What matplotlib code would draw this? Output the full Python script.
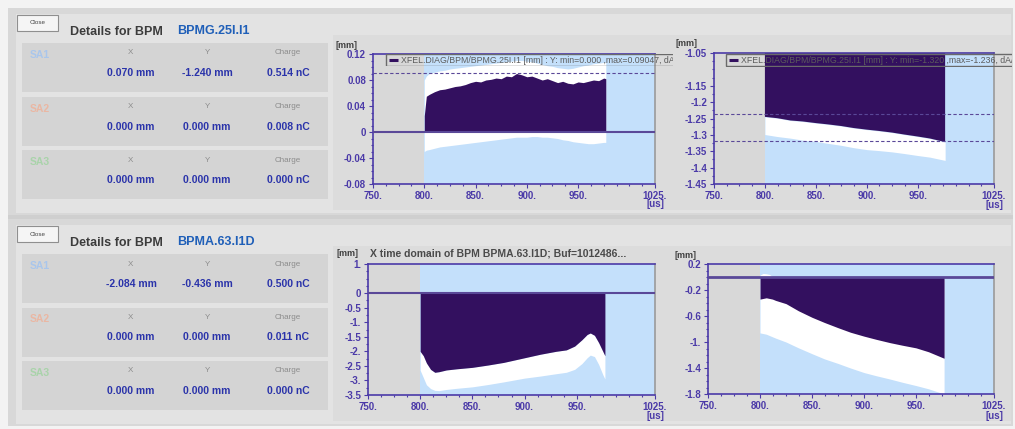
import numpy as np
import matplotlib
matplotlib.use("Agg")
import matplotlib.pyplot as plt
import matplotlib.patches as pat

plt.rcParams['font.family'] = ['Liberation Sans', 'DejaVu Sans']

W, H = 1015, 429

# ---- BPM readout values (top panel / bottom panel) ----
bpm_names = ["BPMG.25I.I1", "BPMA.63.I1D"]
sa_names = ["SA1", "SA2", "SA3"]
top_x = ["0.070 mm", "0.000 mm", "0.000 mm"]
top_y = ["-1.240 mm", "0.000 mm", "0.000 mm"]
top_q = ["0.514 nC", "0.008 nC", "0.000 nC"]
bot_x = ["-2.084 mm", "0.000 mm", "0.000 mm"]
bot_y = ["-0.436 mm", "0.000 mm", "0.000 mm"]
bot_q = ["0.500 nC", "0.011 nC", "0.000 nC"]

# ---- time domain traces [us] / [mm] ----
# BPMG.25I.I1 Y : current, max envelope, min envelope
t_a = [800, 802, 805, 810, 815, 820, 825, 830, 835, 840, 845, 850, 855, 860, 865,
       870, 875, 880, 885, 890, 895, 900, 905, 910, 915, 920, 925, 930, 935, 940,
       945, 950, 955, 960, 965, 970, 975, 977]
y_a = [0.025, 0.055, 0.058, 0.062, 0.065, 0.066, 0.068, 0.070, 0.071, 0.073,
       0.076, 0.078, 0.077, 0.080, 0.081, 0.083, 0.082, 0.086, 0.085, 0.090,
       0.088, 0.085, 0.086, 0.083, 0.080, 0.082, 0.079, 0.076, 0.078, 0.075,
       0.074, 0.077, 0.076, 0.078, 0.080, 0.079, 0.083, 0.082]
hi_a = [0.080, 0.086, 0.090, 0.092, 0.094, 0.095, 0.097, 0.098, 0.099, 0.100,
        0.101, 0.102, 0.103, 0.104, 0.105, 0.106, 0.107, 0.108, 0.109, 0.110,
        0.110, 0.109, 0.108, 0.106, 0.104, 0.102, 0.101, 0.099, 0.098, 0.097,
        0.098, 0.100, 0.102, 0.103, 0.105, 0.106, 0.107, 0.107]
lo_a = [-0.030, -0.028, -0.027, -0.025, -0.023, -0.022, -0.021, -0.020, -0.019,
        -0.018, -0.017, -0.016, -0.015, -0.014, -0.013, -0.012, -0.011, -0.010,
        -0.009, -0.008, -0.008, -0.008, -0.007, -0.007, -0.008, -0.008, -0.009,
        -0.010, -0.012, -0.013, -0.015, -0.016, -0.017, -0.018, -0.018, -0.017,
        -0.016, -0.016]
lim_a = [0.0, 0.09047]

# BPMG.25I.I1 Y (second view)
t_b = [800, 812, 825, 837, 850, 862, 875, 887, 900, 912, 925, 937, 950, 962, 977]
y_b = [-1.245, -1.249, -1.256, -1.259, -1.264, -1.268, -1.273, -1.279, -1.284,
       -1.288, -1.293, -1.299, -1.305, -1.311, -1.322]
lo_b = [-1.299, -1.305, -1.310, -1.316, -1.320, -1.326, -1.332, -1.339, -1.345,
        -1.348, -1.352, -1.357, -1.363, -1.368, -1.378]
lim_b = [-1.320, -1.236]

# BPMA.63.I1D X
t_c = [800, 803, 806, 810, 814, 818, 825, 835, 850, 865, 880, 900, 915, 930,
       940, 948, 955, 960, 963, 967, 971, 975, 977]
y_c = [-2.00, -2.15, -2.40, -2.62, -2.72, -2.70, -2.64, -2.60, -2.55, -2.47,
       -2.38, -2.22, -2.10, -2.00, -1.95, -1.82, -1.60, -1.42, -1.37, -1.45,
       -1.70, -2.00, -2.15]
lo_c = [-2.65, -2.90, -3.15, -3.28, -3.34, -3.35, -3.31, -3.27, -3.22, -3.14,
        -3.05, -2.92, -2.85, -2.77, -2.72, -2.62, -2.42, -2.22, -2.13, -2.18,
        -2.45, -2.80, -2.95]

# BPMA.63.I1D Y
t_d = [800, 803, 806, 809, 812, 815, 825, 837, 850, 862, 875, 887, 900, 912,
       925, 937, 950, 962, 977]
y_d = [-0.34, -0.33, -0.32, -0.33, -0.34, -0.36, -0.41, -0.52, -0.62, -0.70,
       -0.78, -0.85, -0.91, -0.96, -1.01, -1.05, -1.09, -1.15, -1.25]
hi_d = [0.03, 0.055, 0.05, 0.04, 0.01, 0.0, 0.0, 0.0, 0.0, 0.0, 0.0, 0.0, 0.0,
        0.0, 0.0, 0.0, 0.0, 0.0, 0.0]
lo_d = [-0.86, -0.87, -0.88, -0.90, -0.92, -0.94, -1.00, -1.09, -1.18, -1.26,
        -1.33, -1.40, -1.47, -1.52, -1.57, -1.62, -1.67, -1.72, -1.80]

xt = [750, 800, 850, 900, 950, 1025]
xtl = ["750.", "800.", "850.", "900.", "950.", "1025."]

PURPLE = '#33105f'
BLUE = '#c4e0fb'
AXC = '#4b3aa8'
ZERO = '#5a4898'
VALC = '#2a33aa'
HEADC = '#8c8c8c'
SA_COLORS = ['#a9c6ec', '#eab7a3', '#a9d3aa']


def fbox(x0, y0, x1, y1):
    return [x0 / W, 1 - y1 / H, (x1 - x0) / W, (y1 - y0) / H]


fig = plt.figure(figsize=(W / 100, H / 100), dpi=100)
fig.patch.set_facecolor('#f3f3f3')

# background layer in pixel units
bg = fig.add_axes([0, 0, 1, 1], zorder=0)
bg.set_xlim(0, W)
bg.set_ylim(H, 0)
bg.axis('off')


def rect(x0, y0, x1, y1, fc, ec='none', lw=0):
    bg.add_patch(pat.Rectangle((x0, y0), x1 - x0, y1 - y0, fc=fc, ec=ec, lw=lw))


def draw_panel(off, name, xs, ys, qs):
    rect(8, 8 + off, 1013, 215 + off, '#d8d8d8')
    rect(16, 14 + off, 1011, 213 + off, '#e3e3e3')
    rect(333, 35 + off, 1011, 210 + off, '#dcdcdc')
    # close button
    rect(17, 15 + off, 58, 31 + off, '#f5f5f5', '#8f8f8f', 0.8)
    bg.text(37.5, 23 + off, "Close", fontsize=4.5, color='#444444',
            ha='center', va='center')
    bg.text(70, 32 + off, "Details for BPM", fontsize=9, fontweight='bold',
            color='#3c3c3c', va='center')
    bg.text(177, 31 + off, name, fontsize=9, fontweight='bold',
            color='#1f5fb8', va='center')
    for i in range(3):
        top = 43 + off + i * 53.5
        rect(22, top, 328, top + 49, '#d4d4d4')
        bg.text(30, top + 12, sa_names[i], fontsize=7.5, fontweight='bold',
                color=SA_COLORS[i], va='center')
        for cx, head, val in [(131, "X", xs[i]), (207, "Y", ys[i]),
                              (288, "Charge", qs[i])]:
            bg.text(cx, top + 10, head, fontsize=5.8, color=HEADC,
                    ha='center', va='center')
            bg.text(cx, top + 30, val, fontsize=7.5, fontweight='bold',
                    color=VALC, ha='center', va='center')


draw_panel(0, bpm_names[0], top_x, top_y, top_q)
rect(8, 215, 1013, 220, '#cfcfcf')
draw_panel(211, bpm_names[1], bot_x, bot_y, bot_q)


def style(ax, ylim, yt, ytl, yminor):
    ax.set_xlim(750, 1025)
    ax.set_ylim(*ylim)
    ax.set_facecolor('#d8d8d8')
    ax.axvspan(800, 1025, color=BLUE, lw=0, zorder=0)
    ax.set_xticks(xt)
    ax.set_xticklabels(xtl)
    ax.set_xticks(np.arange(750, 1025.1, 12.5), minor=True)
    ax.set_yticks(yt)
    ax.set_yticklabels(ytl)
    ax.set_yticks(yminor, minor=True)
    ax.tick_params(which='both', colors=AXC, direction='out', width=0.8,
                   labelsize=7)
    ax.tick_params(which='major', length=3, pad=2)
    ax.tick_params(which='minor', length=1.6)
    for lab in ax.get_xticklabels() + ax.get_yticklabels():
        lab.set_fontweight('bold')
    for s in ['left', 'bottom', 'top']:
        ax.spines[s].set_color(AXC)
        ax.spines[s].set_linewidth(1.2)
    ax.spines['right'].set_color('#9a9a9a')
    ax.spines['right'].set_linewidth(1.2)


def units(x_mm, y_mm, x_us, y_us):
    bg.text(x_mm, y_mm, "[mm]", fontsize=6.5, fontweight='bold',
            color='#404040', va='center')
    bg.text(x_us, y_us, "[us]", fontsize=7, fontweight='bold',
            color=AXC, ha='center', va='center')


def legend_box(x0, y0, x1, y1, label):
    lax = fig.add_axes(fbox(x0, y0, x1, y1), zorder=3)
    lax.set_xlim(0, 1)
    lax.set_ylim(0, 1)
    lax.axis('off')
    lax.add_patch(pat.Rectangle((0.002, 0.04), 2, 0.92, fc='none',
                                ec='#6a6a6a', lw=1.0, clip_on=True,
                                transform=lax.transAxes))
    px = 1 / (x1 - x0)
    lax.plot([4 * px, 13 * px], [0.5, 0.5], color=PURPLE, lw=2.2,
             solid_capstyle='butt')
    lax.text(16 * px, 0.45, label, fontsize=6.3, color='#5c5c5c',
             va='center', clip_on=True)


# ---- BPMG.25I.I1, Y, full window ----
ax_a = fig.add_axes(fbox(373, 54, 655, 184), zorder=1)
style(ax_a, (-0.08, 0.12), [-0.08, -0.04, 0, 0.04, 0.08, 0.12],
      ["-0.08", "-0.04", "0", "0.04", "0.08", "0.12"],
      np.arange(-0.08, 0.1201, 0.01))
ax_a.fill_between(t_a, lo_a, hi_a, color='white', lw=0, zorder=1)
ax_a.fill_between(t_a, 0, y_a, color=PURPLE, lw=0, zorder=2)
ax_a.axhline(0, color=ZERO, lw=1.5, zorder=3)
ax_a.axhline(lim_a[1], color=ZERO, lw=0.8, ls=(0, (3, 2)), zorder=3)
units(336, 45, 655, 204)
legend_box(385, 54, 673, 66,
           "XFEL.DIAG/BPM/BPMG.25I.I1 [mm] : Y: min=0.000 ,max=0.09047, dA/A")

# ---- BPMG.25I.I1, Y, zoomed ----
ax_b = fig.add_axes(fbox(714, 53, 994, 184), zorder=1)
style(ax_b, (-1.45, -1.05),
      [-1.45, -1.4, -1.35, -1.3, -1.25, -1.2, -1.15, -1.05],
      ["-1.45", "-1.4", "-1.35", "-1.3", "-1.25", "-1.2", "-1.15", "-1.05"],
      np.arange(-1.45, -1.0499, 0.025))
ax_b.fill_between(t_b, lo_b, y_b, color='white', lw=0, zorder=1)
ax_b.fill_between(t_b, 0, y_b, color=PURPLE, lw=0, zorder=2)
for v in lim_b:
    ax_b.axhline(v, color=ZERO, lw=0.8, ls=(0, (3, 2)), zorder=3)
units(676, 44, 994, 205)
legend_box(725, 53, 1012, 67,
           "XFEL.DIAG/BPM/BPMG.25I.I1 [mm] : Y: min=-1.320 ,max=-1.236, dA/A")

# ---- BPMA.63.I1D, X ----
ax_c = fig.add_axes(fbox(368, 264, 655, 395), zorder=1)
style(ax_c, (-3.5, 1.0),
      [1.0, 0, -0.5, -1.0, -1.5, -2.0, -2.5, -3.0, -3.5],
      ["1.", "0", "-0.5", "-1.", "-1.5", "-2.", "-2.5", "-3.", "-3.5"],
      np.arange(-3.5, 1.01, 0.25))
ax_c.fill_between(t_c, lo_c, y_c, color='white', lw=0, zorder=1)
ax_c.fill_between(t_c, 0, y_c, color=PURPLE, lw=0, zorder=2)
ax_c.axhline(0, color=ZERO, lw=1.5, zorder=3)
units(337, 254, 655, 416)
bg.text(370, 253, "X time domain of BPM BPMA.63.I1D; Buf=1012486...",
        fontsize=7.5, fontweight='bold', color='#4a4a4a', va='center')

# ---- BPMA.63.I1D, Y ----
ax_d = fig.add_axes(fbox(708, 264, 994, 394), zorder=1)
style(ax_d, (-1.8, 0.2),
      [0.2, -0.2, -0.6, -1.0, -1.4, -1.8],
      ["0.2", "-0.2", "-0.6", "-1.", "-1.4", "-1.8"],
      np.arange(-1.8, 0.201, 0.1))
ax_d.fill_between(t_d, lo_d, hi_d, color='white', lw=0, zorder=1)
ax_d.fill_between(t_d, 0, y_d, color=PURPLE, lw=0, zorder=2)
ax_d.axhline(0, color=ZERO, lw=2.0, zorder=3)
units(675, 255, 994, 416)

fig.savefig("out.png", dpi=100, facecolor=fig.get_facecolor())
